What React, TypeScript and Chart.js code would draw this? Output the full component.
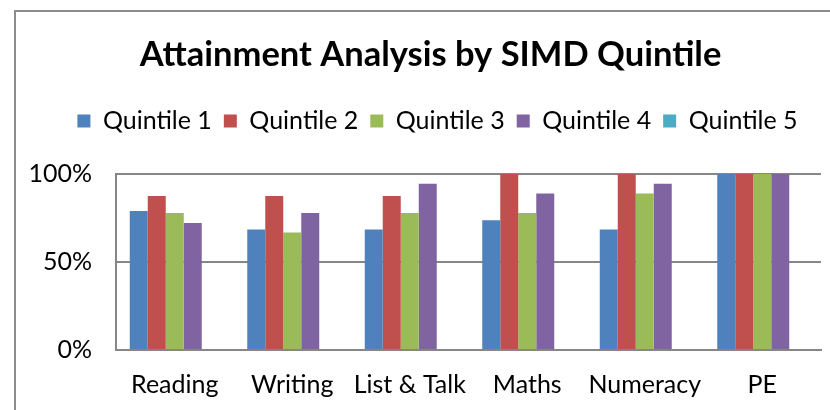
import React, { useEffect, useRef } from "react";
import { Chart, registerables } from "chart.js";

Chart.register(...registerables);

const categories = ["Reading", "Writing", "List & Talk", "Maths", "Numeracy", "PE"];
const seriesNames = ["Quintile 1", "Quintile 2", "Quintile 3", "Quintile 4", "Quintile 5"];
const quintile1 = [0.79, 0.684, 0.684, 0.737, 0.684, 1.0];
const quintile2 = [0.875, 0.875, 0.875, 1.0, 1.0, 1.0];
const quintile3 = [0.778, 0.667, 0.778, 0.778, 0.889, 1.0];
const quintile4 = [0.722, 0.778, 0.944, 0.889, 0.944, 1.0];
const quintile5 = [0, 0, 0, 0, 0, 0];
const seriesColors = ["#4F81BD", "#C0504D", "#9BBB59", "#8064A2", "#4BACC6"];
const yTicks = [0, 0.5, 1];

const FONT = "Lato";
const PAD_LEFT = 26;

const frame = {
  id: "frame",
  afterLayout(chart: any) {
    if (chart.legend) { chart.legend.left += 14; chart.legend.right += 14; }
    if (chart.titleBlock) { chart.titleBlock.left += 7; chart.titleBlock.right += 7; }
  },
  beforeDraw(chart: any) {
    const ctx = chart.ctx;
    ctx.save();
    ctx.strokeStyle = "#8c8c8c";
    ctx.lineWidth = 2;
    ctx.beginPath();
    ctx.moveTo(15, chart.height + 5);
    ctx.lineTo(15, 11);
    ctx.lineTo(chart.width + 5, 11);
    ctx.stroke();
    ctx.restore();
  },
};

export default function App() {
  const ref = useRef<HTMLCanvasElement>(null);
  useEffect(() => {
    const values = [quintile1, quintile2, quintile3, quintile4, quintile5];
    const chart = new Chart(ref.current!, {
      type: "bar",
      data: {
        labels: categories,
        datasets: seriesNames.map((n, i) => ({
          label: n,
          data: values[i],
          backgroundColor: seriesColors[i],
          borderWidth: 0,
          categoryPercentage: 0.766,
          barPercentage: 1,
        })),
      },
      options: {
        animation: false,
        responsive: false,
        layout: { padding: { left: PAD_LEFT, right: 9, top: 0, bottom: 0 } },
        plugins: {
          tooltip: { enabled: false },
          title: {
            display: true,
            text: "Attainment Analysis by SIMD Quintile",
            color: "#000",
            font: { family: FONT, size: 34.5, weight: "bold" },
            padding: { top: 34.3, bottom: 20.8 },
          },
          subtitle: {
            display: true,
            text: "",
            weight: 500,
            font: { size: 1 },
            padding: { top: 29.3, bottom: 0 },
          } as any,
          legend: {
            display: true,
            labels: {
              color: "#000",
              font: { family: FONT, size: 25 },
              boxWidth: 13,
              boxHeight: 13,
              padding: 12,
            },
          },
        },
        scales: {
          x: {
            grid: { display: false, drawTicks: false },
            border: { display: true, color: "#868686", width: 2 },
            ticks: { color: "#000", font: { family: FONT, size: 25 }, padding: 20, maxRotation: 0 },
            afterFit: (s: any) => { s.height = 60; },
          },
          y: {
            min: 0,
            max: 1,
            afterBuildTicks: (s: any) => { s.ticks = yTicks.map((v) => ({ value: v })); },
            grid: { color: "#868686", lineWidth: 2, drawTicks: false },
            border: { display: true, color: "#868686", width: 2 },
            ticks: {
              color: "#000",
              font: { family: FONT, size: 25 },
              padding: 24,
              callback: (v: any) => Math.round(Number(v) * 100) + "%",
            },
            afterFit: (s: any) => { s.width = 116 - PAD_LEFT; },
          },
        },
      },
      plugins: [frame],
    });
    return () => chart.destroy();
  }, []);
  return (
    <div style={{ position: "absolute", left: 0, top: 0, width: 830, height: 410, background: "#fff" }}>
      <canvas ref={ref} width={830} height={410} style={{ display: "block" }} />
    </div>
  );
}
